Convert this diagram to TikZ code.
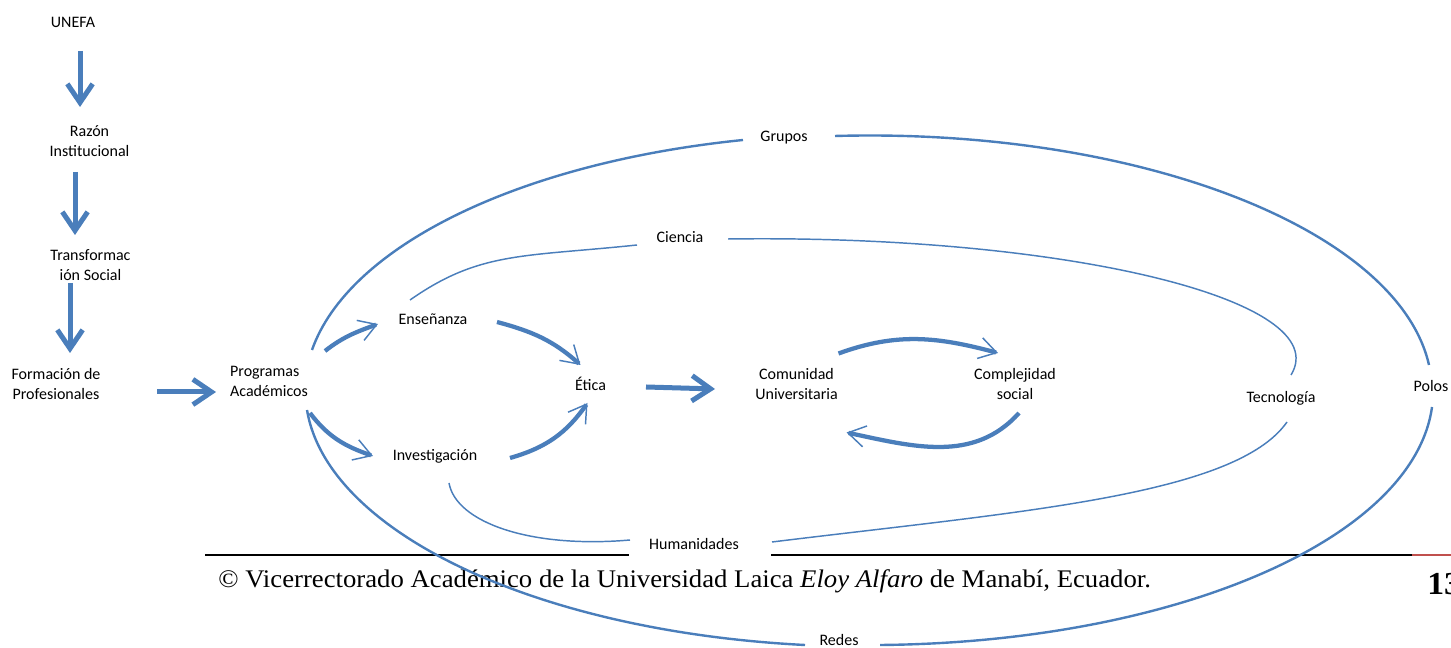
\documentclass[tikz,border=0pt]{standalone}
\usepackage{fontspec}
\setmainfont{Carlito}
\newfontfamily\footfont[FakeStretch=1.055]{Liberation Serif}
\usetikzlibrary{arrows.meta}
\definecolor{linkblue}{RGB}{74,126,187}
\definecolor{footred}{RGB}{192,80,77}

\begin{document}
\begin{tikzpicture}[
    x=0.75pt, y=0.75pt,
    word/.style={font=\fontsize{12}{15}\selectfont, align=center, inner sep=1pt},
    bigarrow/.style={draw=linkblue, line width=3.75pt, -{Straight Barb[length=14pt, width=19pt]}},
    bowarrow/.style={draw=linkblue, line width=3.2pt, -{Straight Barb[length=13pt, width=16pt, line width=1.1pt]}},
    outer ring/.style={draw=linkblue, line width=1.8pt},
    inner ring/.style={draw=linkblue, line width=1.1pt},
  ]
  \useasboundingbox (0,0) rectangle (1451,648);

  \draw[black, line width=1.5pt] (205,93) -- (1412,93);
  \draw[footred, line width=1.5pt] (1412,93) -- (1451,93);
  \node[anchor=base west, inner sep=0, font=\footfont\fontsize{19}{22}\selectfont] (footer) at (218,60)
    {© Vicerrectorado Académico de la Universidad Laica \textit{Eloy Alfaro} de Manabí, Ecuador.};
  \node[anchor=base west, inner sep=0, font=\footfont\bfseries\fontsize{24}{28}\selectfont] (pagenum) at (1427,53) {13};

  \node[word] (unefa) at (73,626) {UNEFA};
  \node[word] (razon) at (89.5,507) {Razón\\Institucional};
  \node[word] (transf) at (90.5,382.5) {Transformac\\ión Social};
  \node[word] (formacion) at (56,264) {Formación de\\Profesionales};
  \node[word, align=left] (programas) at (269,267) {Programas\\Académicos};
  \node[word] (ensenanza) at (433,329) {Enseñanza};
  \node[word] (investigacion) at (435,192) {Investigación};
  \node[word] (etica) at (590.5,264) {Ética};
  \node[word] (comunidad) at (796.5,263.5) {Comunidad\\Universitaria};
  \node[word] (complejidad) at (1015,264) {Complejidad\\social};
  \node[word] (tecnologia) at (1281,250) {Tecnología};
  \node[word] (polos) at (1431,262) {Polos};
  \node[word] (grupos) at (784,510) {Grupos};
  \node[word] (ciencia) at (680,411) {Ciencia};
  \node[word, fill=white, minimum width=106.5pt, minimum height=21pt] (humanidades) at (700,104) {\hspace*{-9pt}Humanidades};
  \node[word] (redes) at (839,8) {Redes};

  \draw[bigarrow] ([shift={(7,-29)}]unefa.center) -- ([shift={(-9.5,34)}]razon.center);
  \draw[bigarrow] ([shift={(-14.5,-31)}]razon.center) -- ([shift={(-15.5,30.5)}]transf.center);
  \draw[bigarrow] ([shift={(-20.5,-17.5)}]transf.center) -- ([shift={(14,31)}]formacion.center);
  \draw[bigarrow] ([shift={(101,-8)}]formacion.center) -- ([shift={(-53,-11)}]programas.center);
  \draw[bigarrow] ([shift={(55.5,-3)}]etica.center) -- ([shift={(-81.5,-4.5)}]comunidad.center);

  \draw[bowarrow] ([shift={(56,30)}]programas.center) to[out=38, in=200] ([shift={(-55,-5)}]ensenanza.center);
  \draw[bowarrow] ([shift={(64,-3)}]ensenanza.center) to[out=-15, in=138] ([shift={(-10,19)}]etica.center);
  \draw[bowarrow] ([shift={(41,-32)}]programas.center) to[out=-53, in=161] ([shift={(-62,0)}]investigacion.center);
  \draw[bowarrow] ([shift={(75,-2)}]investigacion.center) to[out=16, in=235] ([shift={(-3,-19)}]etica.center);
  \draw[bowarrow] ([shift={(42,31)}]comunidad.center) to[out=20, in=165] ([shift={(-17,31)}]complejidad.center);
  \draw[bowarrow] ([shift={(4,-29)}]complejidad.center) to[out=228, in=-12] ([shift={(50,-48)}]comunidad.center);

  \draw[outer ring] ([shift={(43,31)}]programas.center) .. controls +(70.7:109.3) and +(185.8:226.5) .. ([shift={(-41,-2)}]grupos.center);
  \draw[outer ring] ([shift={(51,2)}]grupos.center) .. controls +(1.6:302) and +(102.8:139.5) .. ([shift={(-2,21)}]polos.center);
  \draw[outer ring] ([shift={(1,-21)}]polos.center) .. controls +(262.1:133.8) and +(0.5:293.6) .. ([shift={(41,-5)}]redes.center);
  \draw[outer ring] ([shift={(-34,-5)}]redes.center) .. controls +(177.1:269.3) and +(279.4:123.7) .. ([shift={(38,-29)}]programas.center);

  \draw[inner ring] ([shift={(-23,19)}]ensenanza.center) .. controls +(35:85) and +(186:115) .. ([shift={(-43,-8)}]ciencia.center);
  \draw[inner ring] ([shift={(48,-2)}]ciencia.center) .. controls +(0.8:337.2) and +(58.6:87.8) .. ([shift={(10,23)}]tecnologia.center);
  \draw[inner ring] ([shift={(6,-24)}]tecnologia.center) .. controls +(235:90) and +(7:250) .. ([shift={(72,2)}]humanidades.center);
  \draw[inner ring] ([shift={(-70,4)}]humanidades.center) .. controls +(185:100) and +(280:40) .. ([shift={(14,-27)}]investigacion.center);
\end{tikzpicture}
\end{document}
